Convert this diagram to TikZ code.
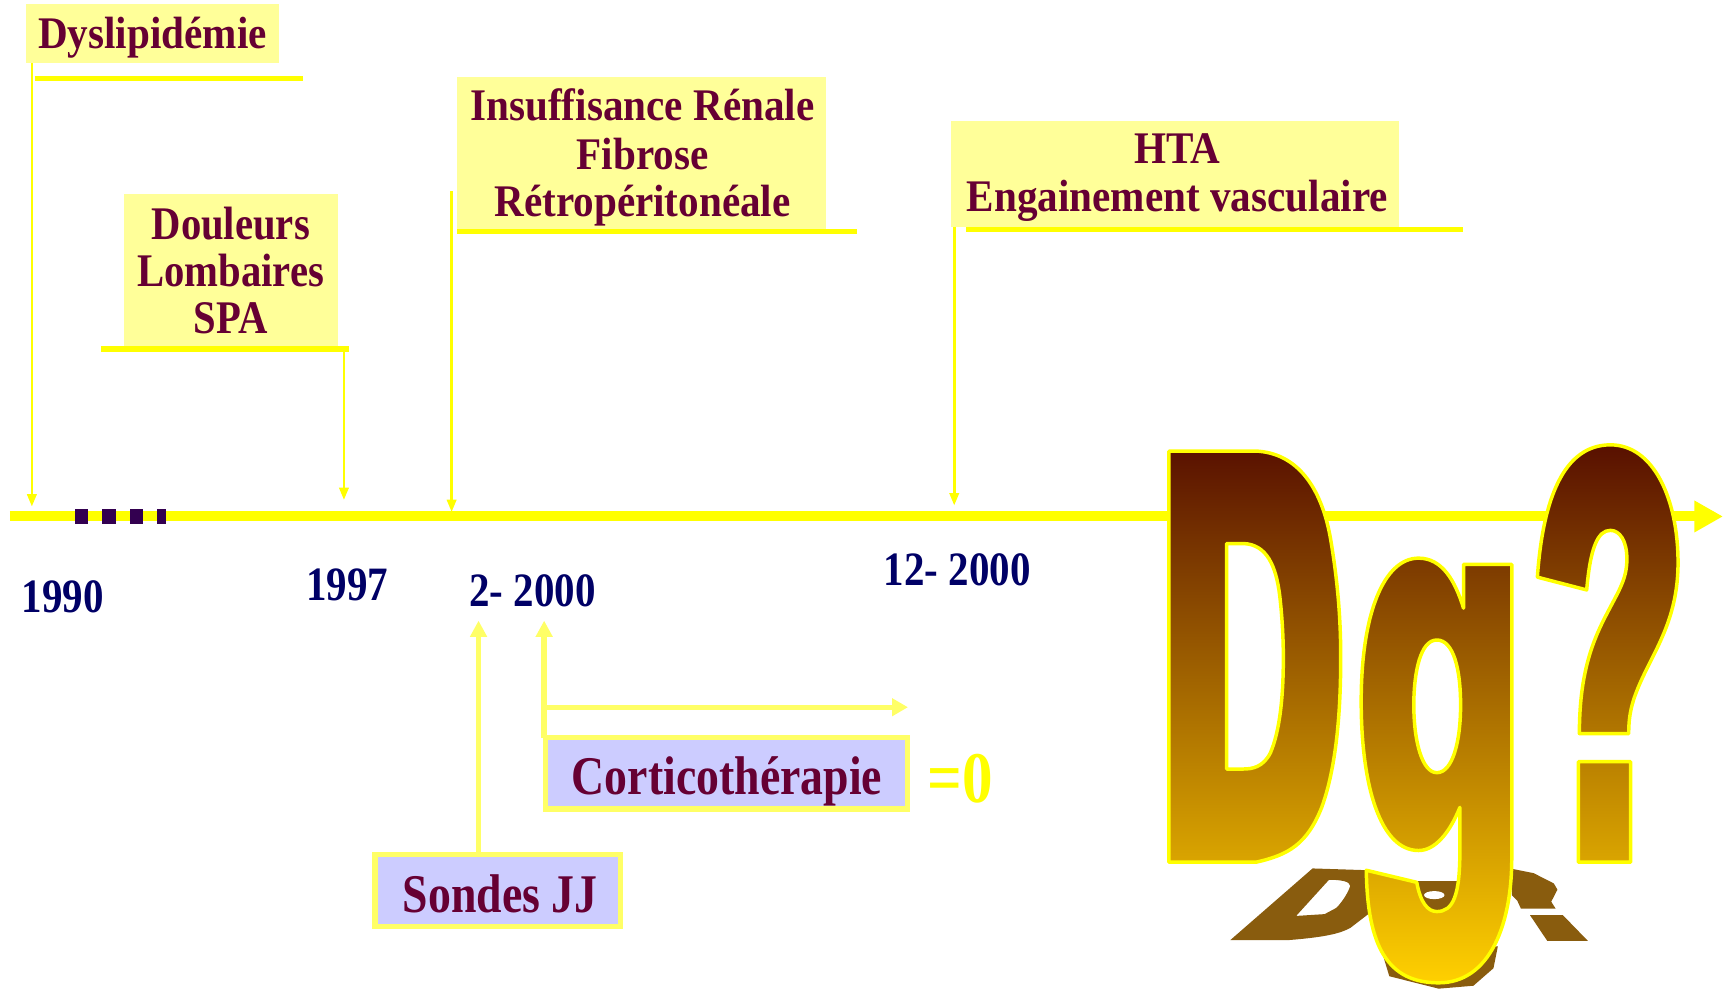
\documentclass[tikz,border=0pt]{standalone}
\usepackage{fontspec}
\setmainfont{Liberation Serif}
\newfontfamily\fA{Liberation Serif}[FakeStretch=0.91]
\newfontfamily\fB{Liberation Serif}[FakeStretch=0.87]
\newfontfamily\fC{Liberation Serif}[FakeStretch=0.84]
\newfontfamily\fD{Liberation Serif}[FakeStretch=0.855]
\usetikzlibrary{arrows.meta}
\definecolor{Yel}{HTML}{FFFF00}
\definecolor{LYel}{HTML}{FFFF66}
\definecolor{NoteFill}{HTML}{FFFF99}
\definecolor{Lav}{HTML}{CCCCFF}
\definecolor{Maroon}{HTML}{660033}
\definecolor{Navy}{HTML}{000066}
\definecolor{Dash}{HTML}{330050}
\definecolor{DgTop}{RGB}{88,16,0}
\definecolor{DgMid}{RGB}{165,125,0}
\definecolor{DgBot}{RGB}{255,208,0}
\definecolor{Shad}{RGB}{137,92,14}
\tikzset{
  notebox/.style={rectangle, fill=NoteFill, inner sep=0pt, outer sep=0pt},
  lavbox/.style={rectangle, fill=Lav, draw=LYel, line width=1.4pt, inner sep=0pt, outer sep=0pt},
  txt/.style={text=Maroon, inner sep=0pt, anchor=base},
  yeartxt/.style={text=Navy, inner sep=0pt, anchor=base, font=\fD\bfseries\fontsize{12.4}{14}\selectfont},
  uline/.style={draw=Yel, line width=1.3pt},
  thinarrow/.style={draw=Yel, line width=0.7pt, -{Triangle[width=2.4pt,length=3.2pt]}},
  fatarrow/.style={draw=LYel, line width=1.4pt, -{Triangle[width=4.2pt,length=4.2pt]}},
  axisline/.style={draw=Yel, line width=2.6pt, -{Triangle[width=7.7pt,length=7.4pt]}},
  dashsq/.style={fill=Dash},
  note/.style={font=\fA\bfseries\fontsize{11.7}{14}\selectfont},
}
\begin{document}
\begin{tikzpicture}[x=0.01cm,y=-0.01cm]
\useasboundingbox (0,0) rectangle (1568,905);

% ---- boxes ----
\node[notebox, minimum width=2.302cm, minimum height=0.537cm] (bDys) at (138.8,30.45) {};
\node[notebox, minimum width=1.948cm, minimum height=1.393cm] (bDou) at (210.2,246.15) {};
\node[notebox, minimum width=3.357cm, minimum height=1.386cm] (bIns) at (583.85,139.3) {};
\node[notebox, minimum width=4.068cm, minimum height=0.965cm] (bHta) at (1069.4,158.05) {};

% ---- texts in boxes ----
\node[txt, note] (tDys) at (138.8,44) {Dyslipidémie};
\node[txt, font=\fB\bfseries\fontsize{12.1}{14}\selectfont] (tDou1) at (210,217.5) {Douleurs};
\node[txt, font=\fB\bfseries\fontsize{12.1}{14}\selectfont] (tDou2) at (210,260.3) {Lombaires};
\node[txt, font=\fB\bfseries\fontsize{12.1}{14}\selectfont] (tDou3) at (210,303.9) {SPA};
\node[txt, note] (tIns1) at (584.7,109.8) {Insuffisance Rénale};
\node[txt, note] (tIns2) at (584.7,153.8) {Fibrose};
\node[txt, note] (tIns3) at (584.7,196.6) {Rétropéritonéale};
\node[txt, note] (tHta1) at (1071.5,148.6) {HTA};
\node[txt, note] (tHta2) at (1071.5,192.6) {Engainement vasculaire};

% ---- underlines ----
\draw[uline] (31.8,71) -- (275.7,71);
\draw[uline] (91.9,317.6) -- (317.6,317.6);
\draw[uline] (416,211) -- (780,211);
\draw[uline] (878.9,208.7) -- (1331,208.7);

% ---- timeline ----
\coordinate (tl0) at (9,470);
\coordinate (tl1) at (1568,470);
\draw[axisline] (tl0) -- (tl1);
\fill[dashsq] (68.2,463) rectangle (80,477);
\fill[dashsq] (92.8,463) rectangle (105.6,477);
\fill[dashsq] (118.3,463) rectangle (130.1,477);
\fill[dashsq] (142.9,463) rectangle (151,477);

% ---- vertical thin arrows ----
\coordinate (aDys) at (29,461);
\coordinate (aDou) at (313,455);
\coordinate (sIns) at (411,174);
\coordinate (aIns) at (411,466);
\coordinate (aHta) at (868.4,460);
\draw[thinarrow] (aDys |- bDys.south) -- (aDys);
\draw[thinarrow] (313,317.6) -- (aDou);
\draw[thinarrow] (sIns) -- (aIns);
\draw[thinarrow] (aHta |- bHta.south) -- (aHta);

% ---- years ----
\node[yeartxt] (y1990) at (57,557) {1990};
\node[yeartxt] (y1997) at (316,546.6) {1997};
\node[yeartxt] (y2000) at (484.5,552) {2- 2000};
\node[yeartxt] (y12) at (871,532.4) {12- 2000};

% ---- lower boxes ----
\node[lavbox, minimum width=2.234cm, minimum height=0.658cm] (bSon) at (452.95,810.35) {};
\node[lavbox, minimum width=3.295cm, minimum height=0.648cm] (bCor) at (661.2,703.75) {};
\node[txt, font=\fC\bfseries\fontsize{14.1}{16}\selectfont] (tSon) at (455.2,830.5) {Sondes JJ};
\node[txt, font=\fC\bfseries\fontsize{14.1}{16}\selectfont] (tCor) at (661.6,723.4) {Corticothérapie};
\node[inner sep=0pt, anchor=base, text=Yel, font=\fC\bfseries\fontsize{18.8}{20}\selectfont] (tEq) at (874,730.7) {=0};

\coordinate (tipS) at (435.5,564.8);
\coordinate (tipC) at (495.2,564.8);
\coordinate (brC) at (495.2,643.6);
\coordinate (tipH) at (826.3,643.6);
\draw[fatarrow] (tipS |- bSon.north) -- (tipS);
\draw[fatarrow] (tipC |- bCor.north) -- (tipC);
\draw[draw=LYel, line width=1.3pt, -{Triangle[width=4.4pt,length=4.1pt]}] (brC) -- (tipH);

% ---- Dg? word art ----
\begin{scope}[shift={(1046.5,382.2)}, scale=0.3326]
  % shadows
  \fill[Shad, even odd rule]
    (220,1423) -- (445,1227) -- (600,1232) -- (600,1350) -- (548,1390)
      .. controls (520,1405) and (480,1415) .. (380,1423) -- cycle
    (400,1357) -- (490,1258) .. controls (520,1258) and (548,1262) .. (548,1275)
      .. controls (540,1300) and (520,1325) .. (510,1335) -- (478,1352) -- cycle;
  \fill[Shad] (732,1262) -- (848,1262) -- (848,1340) -- (732,1340) -- cycle;
  \fill[white] (778,1300) ellipse [x radius=28, y radius=11];
  \fill[Shad] (630,1440) -- (655,1522) -- (790,1556) -- (885,1548) -- (940,1500) -- (952,1440) -- cycle;
  \fill[Shad] (990,1228) -- (1050,1240) -- (1105,1268) -- (1115,1285) -- (1098,1318)
      -- (1110,1337) -- (1015,1337) -- (1005,1315) -- (990,1300) -- cycle;
  \fill[Shad] (1040,1355) -- (1130,1355) -- (1198,1425) -- (1087,1425) -- cycle;
  % letters
  \shadedraw[even odd rule, top color=DgTop, middle color=DgMid, bottom color=DgBot,
             draw=Yel, line width=0.9pt, line join=round]
    % D
    (52,85) -- (290,85) .. controls (400,90) and (470,180) .. (495,330)
      .. controls (515,450) and (522,550) .. (522,650)
      .. controls (522,800) and (510,950) .. (470,1060)
      .. controls (430,1160) and (380,1190) .. (290,1210) -- (52,1210) -- cycle
    (210,338) -- (255,338) .. controls (320,340) and (345,400) .. (355,480)
      .. controls (362,540) and (365,600) .. (365,650)
      .. controls (365,760) and (355,850) .. (330,910)
      .. controls (310,950) and (280,955) .. (255,955) -- (210,955) -- cycle
    % g
    (858,395) -- (990,395) -- (990,1200)
      .. controls (990,1380) and (930,1540) .. (790,1540)
      .. controls (650,1540) and (595,1440) .. (592,1232)
      -- (730,1265) .. controls (740,1320) and (760,1345) .. (785,1345)
      .. controls (830,1345) and (848,1300) .. (848,1180) -- (848,1060)
      .. controls (820,1130) and (780,1178) .. (735,1178)
      .. controls (630,1178) and (578,1000) .. (578,770)
      .. controls (578,530) and (640,378) .. (735,378)
      .. controls (800,378) and (835,440) .. (858,515) -- cycle
    (785,602) .. controls (740,602) and (722,690) .. (722,780)
      .. controls (722,880) and (745,965) .. (785,965)
      .. controls (828,965) and (850,880) .. (850,780)
      .. controls (850,680) and (830,602) .. (785,602) -- cycle
    % ?
    (1060,430) .. controls (1075,220) and (1130,68) .. (1260,68)
      .. controls (1380,68) and (1445,220) .. (1445,390)
      .. controls (1445,520) and (1400,600) .. (1360,680)
      .. controls (1320,760) and (1310,800) .. (1310,858)
      -- (1175,858) .. controls (1175,720) and (1200,630) .. (1240,550)
      .. controls (1280,470) and (1305,440) .. (1305,380)
      .. controls (1305,330) and (1285,302) .. (1260,302)
      .. controls (1225,302) and (1205,350) .. (1195,465) -- cycle
    (1172,935) rectangle (1315,1210);
\end{scope}
\end{tikzpicture}
\end{document}
